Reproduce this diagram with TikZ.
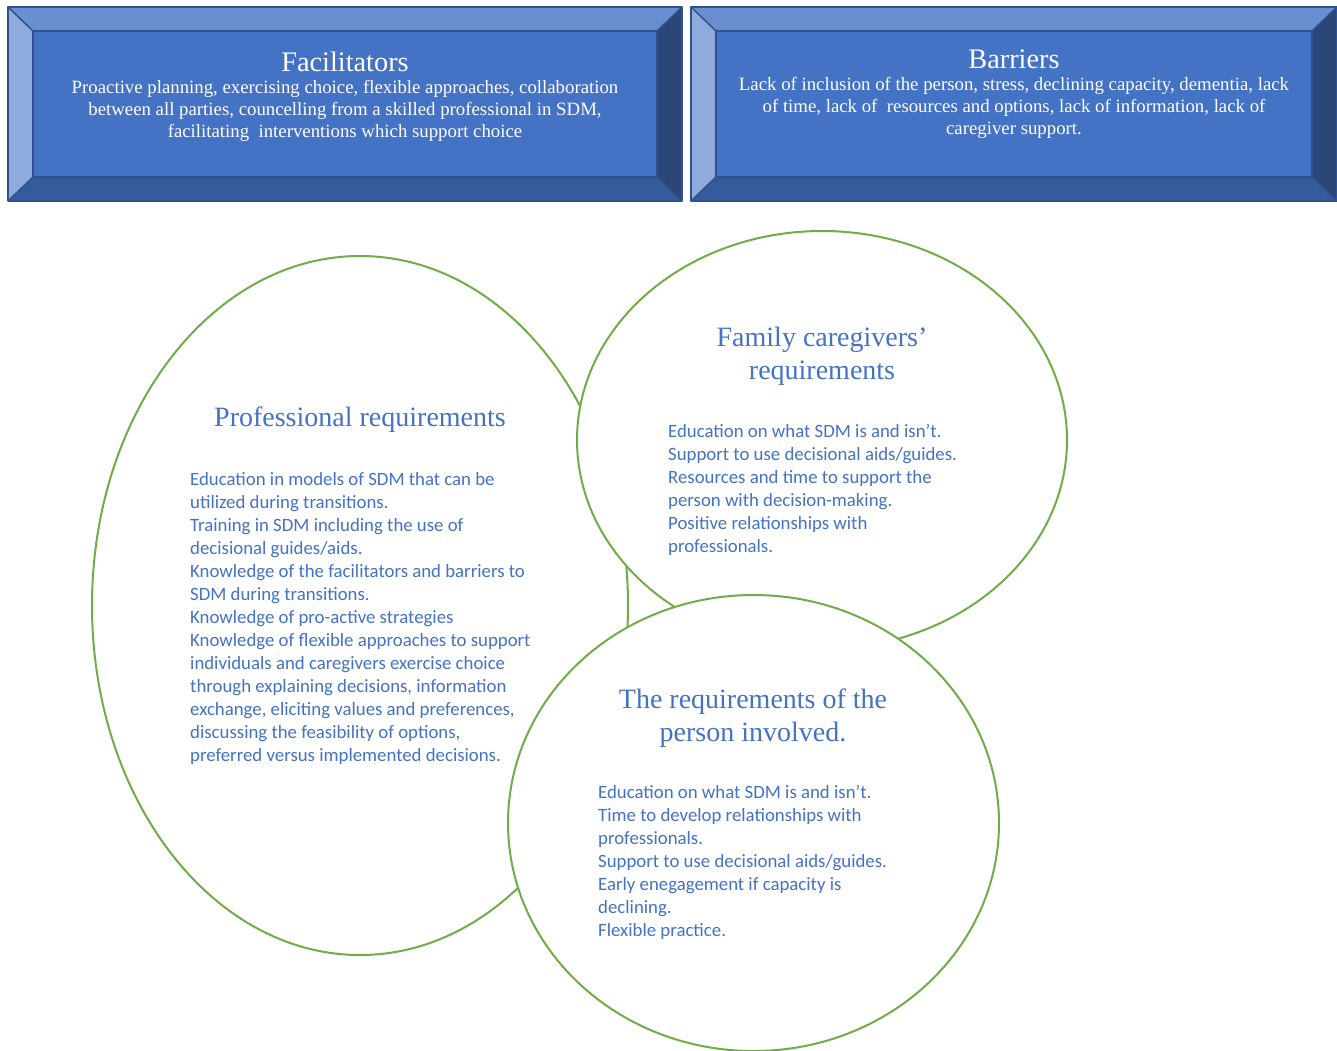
\documentclass[tikz,border=0pt]{standalone}
\usepackage{fontspec}
\setmainfont{Liberation Serif}
\newfontfamily\calfont{Carlito}
\usetikzlibrary{shapes.geometric}
\definecolor{txtblue}{HTML}{4472C4}
\definecolor{reqgreen}{HTML}{70AD47}
\definecolor{facecol}{HTML}{4472C4}
\definecolor{topcol}{HTML}{6A8FD0}
\definecolor{leftcol}{HTML}{8FAADC}
\definecolor{rightcol}{HTML}{2C4678}
\definecolor{botcol}{HTML}{355B9B}
\definecolor{edgecol}{HTML}{2F528F}
\newcommand\bevbox[4]{%
  \fill[topcol] (#1,#2) -- (#3,#2) -- (#3-25,#2+24) -- (#1+25,#2+24) -- cycle;
  \fill[leftcol] (#1,#2) -- (#1+25,#2+24) -- (#1+25,#4-24) -- (#1,#4) -- cycle;
  \fill[rightcol] (#3,#2) -- (#3,#4) -- (#3-25,#4-24) -- (#3-25,#2+24) -- cycle;
  \fill[botcol] (#1,#4) -- (#3,#4) -- (#3-25,#4-24) -- (#1+25,#4-24) -- cycle;
  \fill[facecol] (#1+25,#2+24) rectangle (#3-25,#4-24);
  \draw[boxedge] (#1,#2) rectangle (#3,#4);
  \draw[boxedge] (#1+25,#2+24) rectangle (#3-25,#4-24);
  \draw[boxedge] (#1,#2) -- (#1+25,#2+24) (#3,#2) -- (#3-25,#2+24)
                 (#1,#4) -- (#1+25,#4-24) (#3,#4) -- (#3-25,#4-24);
}
\tikzset{
  boxedge/.style={draw=edgecol, line width=1.5pt, line join=round},
  boxtitle/.style={font=\fontsize{28.3}{33}\selectfont, text=white, inner sep=0pt, anchor=base},
  boxbody/.style={font=\fontsize{18.8}{22}\selectfont, text=white, inner sep=0pt, anchor=north, align=center},
  req/.style={ellipse, draw=reqgreen, line width=2pt, fill=white, inner sep=0pt},
  head/.style={font=\fontsize{28}{33}\selectfont, text=txtblue, inner sep=0pt, align=center},
  body/.style={font=\calfont\fontsize{18.8}{23}\selectfont, text=txtblue, inner sep=0pt, align=left, anchor=north west},
}
\begin{document}
\begin{tikzpicture}[x=1pt,y=-1pt]
\useasboundingbox (0,0) rectangle (1337,1050);
\fill[white] (0,0) rectangle (1337,1050);
\clip (0,0) rectangle (1337,1050);

% top boxes
\bevbox{8}{7}{682}{201}
\bevbox{691}{7}{1337}{201}
\node[boxtitle] (factitle) at (345,71) {Facilitators};
\node[boxbody] (facbody) at (345,80) {Proactive planning, exercising choice, flexible approaches, collaboration\\
between all parties, councelling from a skilled professional in SDM,\\
facilitating\ \ interventions which support choice};
\node[boxtitle] (bartitle) at (1014,68) {Barriers};
\node[boxbody] (barbody) at (1014,77) {Lack of inclusion of the person, stress, declining capacity, dementia, lack\\
of time, lack of\ \ resources and options, lack of information, lack of\\
caregiver support.};

% ellipses
\node[req, minimum width=536pt, minimum height=699pt] (prof) at (360,605.5) {};
\node[req, minimum width=490pt, minimum height=418pt] (fam) at (822,440) {};
\node[req, minimum width=491pt, minimum height=456pt] (pers) at (753.5,823) {};

% professional
\node[head, anchor=base] (proftitle) at (360,426) {Professional requirements};
\node[body] (profbody) at (190,472) {Education in models of SDM that can be\\
utilized during transitions.\\
Training in SDM including the use of\\
decisional guides/aids.\\
Knowledge of the facilitators and barriers to\\
SDM during transitions.\\
Knowledge of pro-active strategies\\
Knowledge of flexible approaches to support\\
individuals and caregivers exercise choice\\
through explaining decisions, information\\
exchange, eliciting values and preferences,\\
discussing the feasibility of options,\\
preferred versus implemented decisions.};

% family
\node[head, anchor=north] (famtitle) at (822,327) {Family caregivers’\\requirements};
\node[body] (fambody) at (668,424) {Education on what SDM is and isn’t.\\
Support to use decisional aids/guides.\\
Resources and time to support the\\
person with decision-making.\\
Positive relationships with\\
professionals.};

% person
\node[head, anchor=north] (perstitle) at (753,689) {The requirements of the\\person involved.};
\node[body] (persbody) at (598,785) {Education on what SDM is and isn’t.\\
Time to develop relationships with\\
professionals.\\
Support to use decisional aids/guides.\\
Early enegagement if capacity is\\
declining.\\
Flexible practice.};
\end{tikzpicture}
\end{document}
